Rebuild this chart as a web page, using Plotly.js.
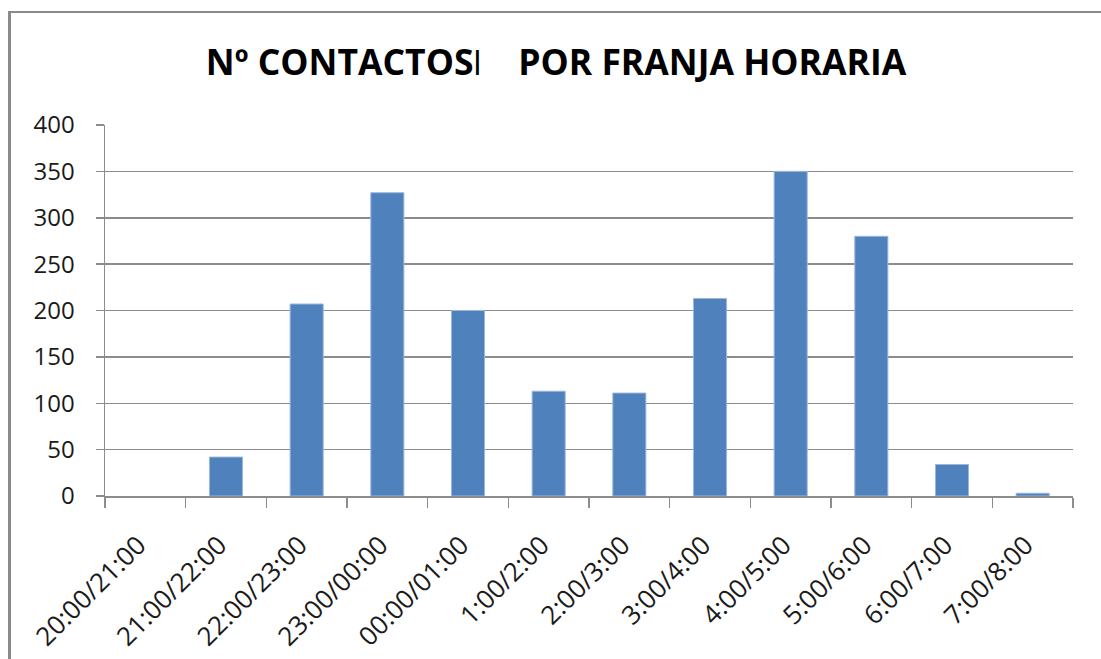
<!DOCTYPE html>
<html>
<head>
<meta charset="utf-8">
<script src="https://cdn.plot.ly/plotly-3.0.1.min.js"></script>
<style>
  html, body { margin: 0; padding: 0; background: #fff; }
  #wrap { position: relative; width: 1101px; height: 659px; overflow: hidden; }
  #chart { width: 1101px; height: 659px; }
  #frame { position: absolute; left: 8px; top: 11px; width: 1200px; height: 700px;
           border-left: 3px solid #8a8a8a; border-top: 2px solid #8a8a8a; pointer-events: none; }
</style>
</head>
<body>
<div id="wrap">
  <div id="chart"></div>
  <div id="frame"></div>
</div>
<script>
const categories = ["20:00/21:00", "21:00/22:00", "22:00/23:00", "23:00/00:00", "00:00/01:00",
                    "1:00/2:00", "2:00/3:00", "3:00/4:00", "4:00/5:00", "5:00/6:00",
                    "6:00/7:00", "7:00/8:00"];
const contactos = [0, 42, 207, 327, 200, 113, 111, 213, 350, 280, 34, 3];
const yTicks = [0, 50, 100, 150, 200, 250, 300, 350, 400];
const chartTitle = "Nº CONTACTOSǀ&nbsp;&nbsp;&nbsp; POR FRANJA HORARIA";

const trace = {
  type: "bar",
  x: categories,
  y: contactos,
  width: 0.41,
  marker: {
    color: "#4F81BD",
    line: { color: "#9DB7DA", width: contactos.map(v => (v > 0 ? 1 : 0)) }
  },
  hoverinfo: "x+y"
};

const layout = {
  width: 1101, height: 659,
  paper_bgcolor: "#ffffff", plot_bgcolor: "#ffffff",
  margin: { l: 105, r: 28, t: 125, b: 163 },
  showlegend: false,
  title: {
    text: chartTitle,
    font: { family: "Open Sans", size: 35.5, color: "#000000", weight: "bold" },
    xref: "container", x: 556 / 1101, xanchor: "center",
    yref: "container", y: 1 - 63 / 659, yanchor: "middle"
  },
  font: { family: "Open Sans", color: "#1a1a1a" },
  xaxis: {
    type: "category",
    tickangle: -45,
    tickfont: { family: "Open Sans", size: 26, color: "#1a1a1a" },
    showline: true, linecolor: "#8c8c8c", linewidth: 1.5,
    ticks: "outside", tickson: "boundaries", ticklen: 10, tickcolor: "#8c8c8c", tickwidth: 1.5,
    showgrid: false, zeroline: false,
    ticklabelstandoff: 22,
    ticklabelshift: -7
  },
  yaxis: {
    range: [0, 400],
    tickvals: yTicks,
    ticktext: yTicks.map(String),
    tickfont: { family: "Open Sans", size: 24, color: "#1a1a1a" },
    showline: true, linecolor: "#8c8c8c", linewidth: 1.5,
    ticks: "outside", ticklen: 8, tickcolor: "#8c8c8c", tickwidth: 1.5,
    showgrid: true, gridcolor: "#8c8c8c", gridwidth: 1.5,
    zeroline: false,
    ticklabelstandoff: 16
  }
};

Plotly.newPlot("chart", [trace], layout, { displayModeBar: false, staticPlot: true });
</script>
</body>
</html>
